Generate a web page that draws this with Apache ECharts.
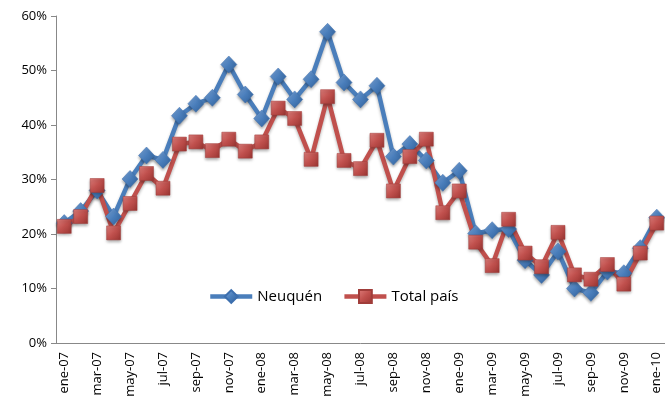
<!DOCTYPE html>
<html>
<head>
<meta charset="utf-8">
<script src="https://cdn.jsdelivr.net/npm/echarts@6/dist/echarts.min.js"></script>
<style>
html,body{margin:0;padding:0;background:#fff;overflow:hidden;}
#chart{width:665px;height:409px;}
</style>
</head>
<body>
<div id="chart"></div>
<script>
const categories = ["ene-07","feb-07","mar-07","abr-07","may-07","jun-07","jul-07","ago-07","sep-07","oct-07","nov-07","dic-07",
"ene-08","feb-08","mar-08","abr-08","may-08","jun-08","jul-08","ago-08","sep-08","oct-08","nov-08","dic-08",
"ene-09","feb-09","mar-09","abr-09","may-09","jun-09","jul-09","ago-09","sep-09","oct-09","nov-09","dic-09","ene-10"];
const neuquen = [22.0,24.2,28.0,23.2,30.1,34.4,33.6,41.7,43.9,45.0,51.1,45.6,
41.2,48.9,44.7,48.4,57.1,47.8,44.7,47.2,34.2,36.5,33.5,29.4,
31.6,20.1,20.7,20.9,15.2,12.5,16.8,10.0,9.2,13.1,12.8,17.4,23.0];
const totalPais = [21.4,23.2,28.9,20.2,25.6,31.1,28.4,36.5,36.9,35.3,37.4,35.2,
36.9,43.1,41.2,33.7,45.2,33.5,32.0,37.2,27.9,34.2,37.4,23.9,
27.9,18.5,14.2,22.7,16.5,14.0,20.3,12.5,11.7,14.4,10.8,16.5,22.0];
const seriesNames = ["Neuquén","Total país"];

const chart = echarts.init(document.getElementById('chart'));
const font = "'Open Sans', Lato, sans-serif";
const blueGrad = new echarts.graphic.LinearGradient(0,0,1,1,[{offset:0,color:'#7fa9dd'},{offset:0.5,color:'#4a7ebb'},{offset:1,color:'#2f5f99'}]);
const redGrad = new echarts.graphic.LinearGradient(0,0,1,1,[{offset:0,color:'#e07f7c'},{offset:0.5,color:'#c0504d'},{offset:1,color:'#9a3532'}]);
chart.setOption({
  animation:false,
  grid:{left:56,right:-4,top:16,bottom:66},
  legend:{
    left:203, top:284, itemWidth:42, itemHeight:16, itemGap:20,
    lineStyle:{width:4.5},
    textStyle:{fontFamily:font,fontSize:15,color:'#000'},
    data:seriesNames
  },
  xAxis:{
    type:'category', data:categories, boundaryGap:true,
    axisLine:{lineStyle:{color:'#888',width:1}},
    axisTick:{interval:1,length:5,lineStyle:{color:'#888'}},
    axisLabel:{interval:1,rotate:90,fontFamily:font,fontSize:13,color:'#000',margin:9}
  },
  yAxis:{
    type:'value', min:0, max:60, interval:10,
    splitLine:{show:false},
    axisLine:{show:true,lineStyle:{color:'#888'}},
    axisTick:{show:true,length:5,lineStyle:{color:'#888'}},
    axisLabel:{formatter:'{value}%',fontFamily:font,fontSize:13,color:'#000',margin:9}
  },
  series:[
    {name:seriesNames[0],type:'line',data:neuquen,symbol:'diamond',symbolSize:[16,17],showSymbol:true,showAllSymbol:true,
     lineStyle:{color:'#4a7ebb',width:4.5,shadowColor:'rgba(0,0,0,0.3)',shadowBlur:3,shadowOffsetY:2},
     itemStyle:{color:blueGrad,borderColor:'#3d6fae',borderWidth:0.5,shadowColor:'rgba(0,0,0,0.35)',shadowBlur:3,shadowOffsetY:2}},
    {name:seriesNames[1],type:'line',data:totalPais,symbol:'rect',symbolSize:14,showSymbol:true,showAllSymbol:true,
     lineStyle:{color:'#c0504d',width:4.5,shadowColor:'rgba(0,0,0,0.3)',shadowBlur:3,shadowOffsetY:2},
     itemStyle:{color:redGrad,borderColor:'#a03d3a',borderWidth:0.5,shadowColor:'rgba(0,0,0,0.35)',shadowBlur:3,shadowOffsetY:2}}
  ]
});
</script>
</body>
</html>
